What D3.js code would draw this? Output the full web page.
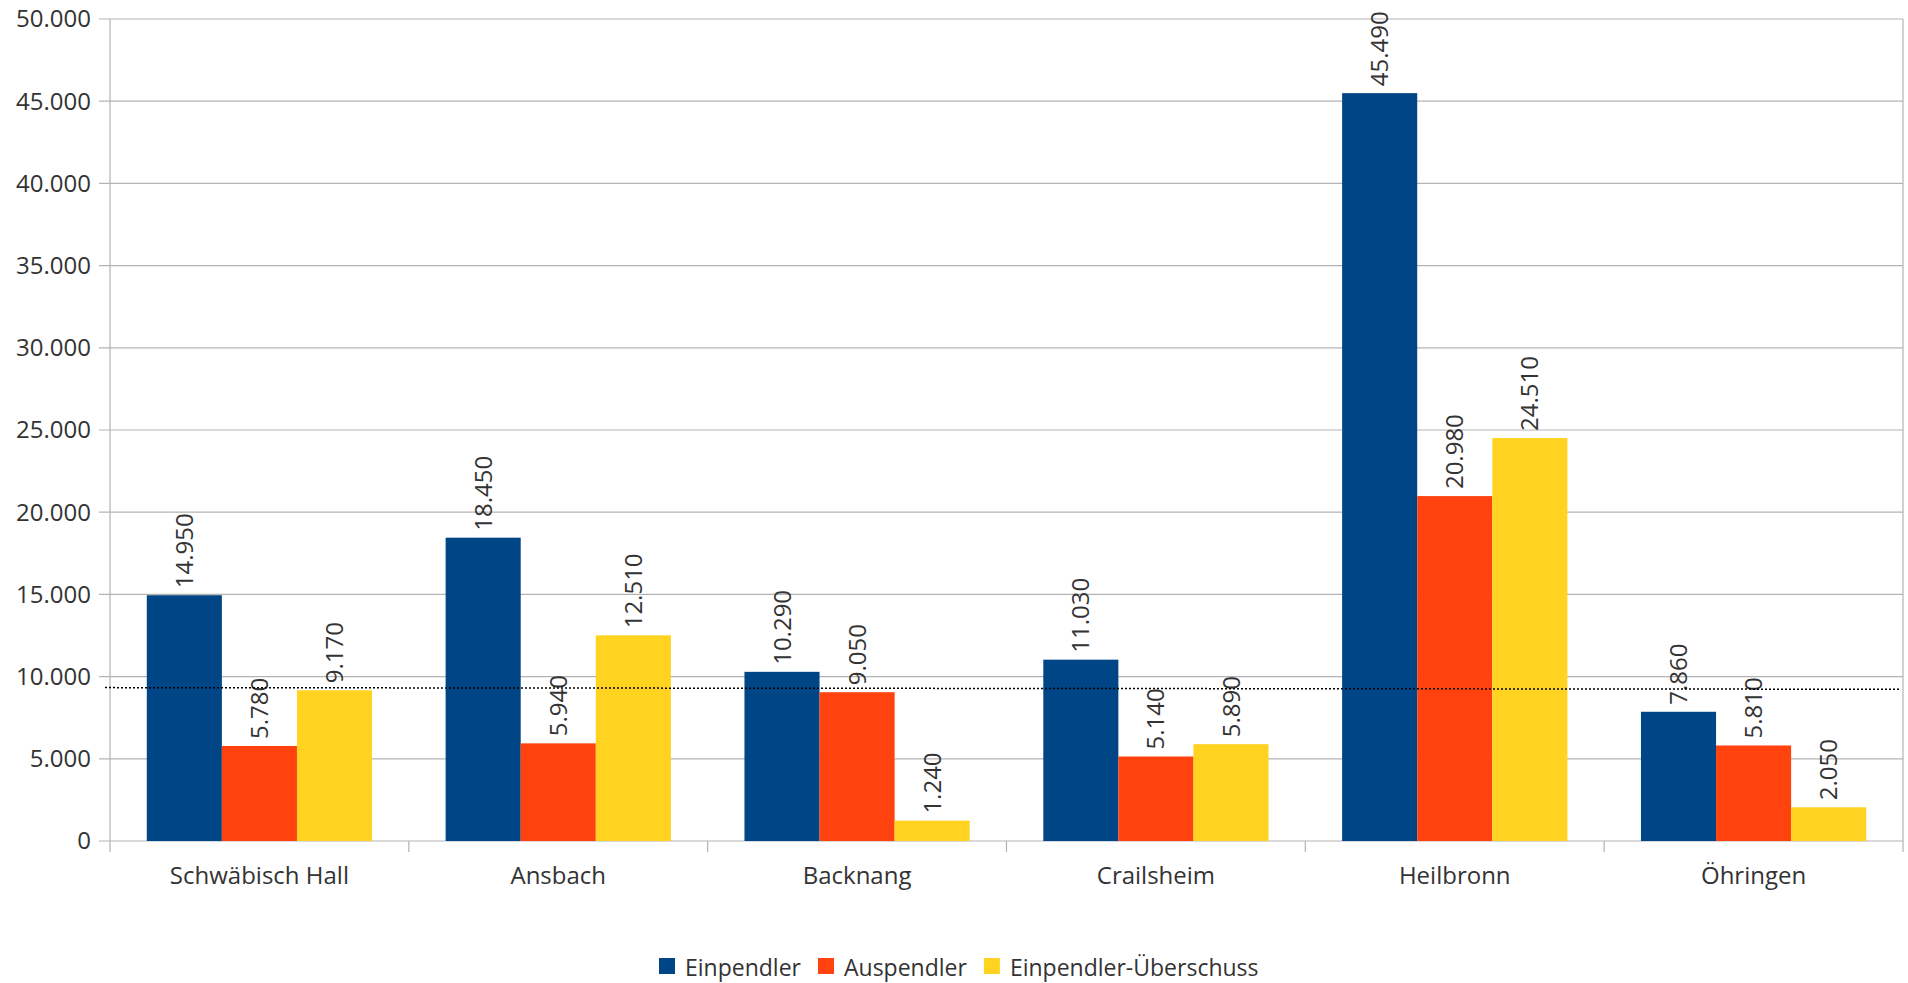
<!DOCTYPE html>
<html>
<head>
<meta charset="utf-8">
<script src="https://cdn.jsdelivr.net/npm/d3@7"></script>
<style>
  html, body { margin: 0; padding: 0; background: #fff; }
  svg { display: block; }
  text { font-family: "Open Sans", sans-serif; fill: #333; }
</style>
</head>
<body>
<svg id="chart" width="1908" height="983"></svg>
<script>
const categories = ["Schwäbisch Hall", "Ansbach", "Backnang", "Crailsheim", "Heilbronn", "Öhringen"];
const seriesNames = ["Einpendler", "Auspendler", "Einpendler-Überschuss"];
const einpendler = [14950, 18450, 10290, 11030, 45490, 7860];
const auspendler = [5780, 5940, 9050, 5140, 20980, 5810];
const ueberschuss = [9170, 12510, 1240, 5890, 24510, 2050];
const yTicks = [0, 5000, 10000, 15000, 20000, 25000, 30000, 35000, 40000, 45000, 50000];
const refLine = [9330, 9230];
const colors = ["#004586", "#ff420e", "#ffd320"];

const seriesValues = [einpendler, auspendler, ueberschuss];
const locale = d3.formatLocale({ decimal: ",", thousands: ".", grouping: [3], currency: ["", "€"] });
const fmt = locale.format(",d");

const svg = d3.select("#chart");
const margin = { left: 110, right: 5, top: 19, bottom: 142 };
const W = 1908, H = 983;
const x0 = d3.scaleBand().domain(categories).range([margin.left, W - margin.right]).paddingInner(0).paddingOuter(0);
const x1 = d3.scaleBand().domain(seriesNames).range([0, x0.bandwidth()]).paddingInner(0).paddingOuter(0.49);
const y = d3.scaleLinear().domain([0, 50000]).range([H - margin.bottom, margin.top]);

const gridColor = "#b3b3b3";

// gridlines + y ticks
const g = svg.append("g");
g.selectAll("line.grid").data(yTicks).join("line")
  .attr("x1", margin.left - 11).attr("x2", W - margin.right)
  .attr("y1", d => y(d)).attr("y2", d => y(d))
  .attr("stroke", gridColor).attr("stroke-width", 1.2);

g.selectAll("text.ytick").data(yTicks).join("text")
  .attr("x", margin.left - 19).attr("y", d => y(d))
  .attr("text-anchor", "end").attr("dy", "0.35em")
  .style("font-size", "24px")
  .text(d => fmt(d));

// vertical axis lines and category ticks
const bounds = categories.map(c => x0(c)).concat([x0.range()[1]]);
g.selectAll("line.ctick").data(bounds).join("line")
  .attr("x1", d => d).attr("x2", d => d)
  .attr("y1", (d, i) => (i === 0 || i === bounds.length - 1) ? y(50000) : y(0))
  .attr("y2", y(0) + 11)
  .attr("stroke", gridColor).attr("stroke-width", 1.2);

// bars
const groups = svg.append("g").selectAll("g").data(categories).join("g")
  .attr("transform", d => `translate(${x0(d)},0)`);

groups.each(function(cat, ci) {
  const gg = d3.select(this);
  const vals = seriesNames.map((s, si) => ({ s, si, v: seriesValues[si][ci] }));
  gg.selectAll("rect").data(vals).join("rect")
    .attr("x", d => x1(d.s)).attr("width", x1.bandwidth())
    .attr("y", d => y(d.v)).attr("height", d => y(0) - y(d.v))
    .attr("fill", d => colors[d.si]);
});

// reference dotted line
const lx0 = x0.range()[0] - 5, lx1 = x0.range()[1] - 3;
svg.append("line")
  .attr("x1", lx0).attr("x2", lx1)
  .attr("y1", y(refLine[0])).attr("y2", y(refLine[1]))
  .attr("stroke", "#000").attr("stroke-width", 1.5)
  .attr("stroke-dasharray", "2,2");

// value labels
groups.each(function(cat, ci) {
  const gg = d3.select(this);
  const vals = seriesNames.map((s, si) => ({ s, si, v: seriesValues[si][ci] }));
  gg.selectAll("text.val").data(vals).join("text")
    .attr("transform", d => `translate(${x1(d.s) + x1.bandwidth() / 2},${y(d.v) - 7}) rotate(-90)`)
    .attr("dy", "0.357em")
    .style("font-size", "24px")
    .text(d => fmt(d.v));
});

// category labels
svg.append("g").selectAll("text").data(categories).join("text")
  .attr("x", d => x0(d) + x0.bandwidth() / 2)
  .attr("y", y(0) + 43)
  .attr("text-anchor", "middle")
  .style("font-size", "24px")
  .text(d => d);

// legend
const legend = svg.append("g").attr("transform", "translate(659,958)");
let lx = 0;
seriesNames.forEach((s, i) => {
  legend.append("rect").attr("x", lx).attr("y", 0).attr("width", 16).attr("height", 16).attr("fill", colors[i]);
  const t = legend.append("text").attr("x", lx + 26).attr("y", 18)
    .style("font-size", "23px").text(s);
  const w = t.node().getComputedTextLength();
  lx += 26 + w + 17;
});
</script>
</body>
</html>
